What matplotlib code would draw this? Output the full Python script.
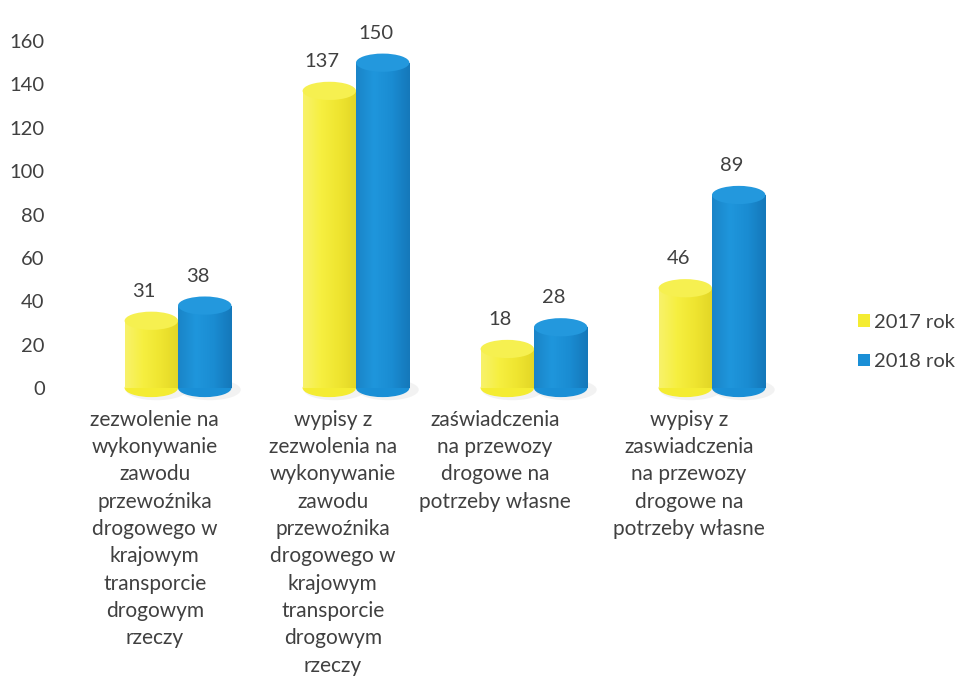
import numpy as np
import matplotlib
matplotlib.use("Agg")
import matplotlib.pyplot as plt
from matplotlib.patches import Rectangle, Ellipse, Patch
from matplotlib.colors import LinearSegmentedColormap

categories = [
    "zezwolenie na\nwykonywanie\nzawodu\nprzewoźnika\ndrogowego w\nkrajowym\ntransporcie\ndrogowym\nrzeczy",
    "wypisy z\nzezwolenia na\nwykonywanie\nzawodu\nprzewoźnika\ndrogowego w\nkrajowym\ntransporcie\ndrogowym\nrzeczy",
    "zaświadczenia\nna przewozy\ndrogowe na\npotrzeby własne",
    "wypisy z\nzaswiadczenia\nna przewozy\ndrogowe na\npotrzeby własne",
]
series_names = ["2017 rok", "2018 rok"]
values_2017 = [31, 137, 18, 46]
values_2018 = [38, 150, 28, 89]
yticks = [0, 20, 40, 60, 80, 100, 120, 140, 160]

plt.rcParams['font.family'] = ['Lato', 'DejaVu Sans']
text_color = '#404040'
fs = 14.5

fig = plt.figure(figsize=(9.64, 6.81), dpi=100)
ax = fig.add_axes([60/964, 1-388/681, (830-60)/964, (388-41)/681])

colors = {
    "2017 rok": ('#f4ec32', ['#f8f26a', '#f6ef40', '#efe530', '#e2d626'], '#f6f050'),
    "2018 rok": ('#1a8fd6', ['#1a84c8', '#1f96dc', '#1a8cd2', '#1578ba'], '#2398dd'),
}

bw = 0.30
ey = 4.2
x = np.arange(len(categories))
offsets = [-bw/2, bw/2]

for si, (name, vals) in enumerate(zip(series_names, [values_2017, values_2018])):
    base, grad, topc = colors[name]
    cmap = LinearSegmentedColormap.from_list(name, grad)
    gimg = np.linspace(0, 1, 64).reshape(1, -1)
    for i, v in enumerate(vals):
        cx = x[i] + offsets[si]
        sh = Ellipse((cx + 0.03, -0.8), bw * 1.15, ey * 2.3, facecolor='#dcdcdc',
                     edgecolor='none', alpha=0.35, zorder=1, clip_on=False)
        ax.add_patch(sh)
        body = Rectangle((cx - bw/2, 0), bw, v, facecolor=base, edgecolor='none',
                         zorder=2 + si, clip_on=False)
        ax.add_patch(body)
        bot = Ellipse((cx, 0), bw, 2*ey, facecolor=base, edgecolor='none',
                      zorder=2 + si, clip_on=False)
        ax.add_patch(bot)
        for p in (body, bot):
            im = ax.imshow(gimg, cmap=cmap, aspect='auto',
                           extent=[cx - bw/2, cx + bw/2, -ey, v], zorder=2 + si,
                           interpolation='bilinear')
            im.set_clip_path(p)
        top = Ellipse((cx, v), bw, 2*ey, facecolor=topc, edgecolor='none',
                      zorder=2.5 + si, clip_on=False)
        ax.add_patch(top)
        ax.text(cx - 0.04, v + ey + 5.5, str(v), ha='center', va='bottom',
                fontsize=fs, color=text_color, zorder=5)

ax.set_xlim(-0.663, 3.663)
ax.set_ylim(0, 160)
ax.set_yticks(yticks)
ax.set_yticklabels([str(t) for t in yticks], fontsize=fs, color=text_color)
label_shift = [-0.13, -0.13, -0.22, -0.13]
ax.set_xticks(x + np.array(label_shift))
ax.set_xticklabels(categories, fontsize=15, color=text_color, linespacing=1.46,
                   va='top')
ax.tick_params(axis='both', length=0)
ax.tick_params(axis='x', pad=15.5)
ax.tick_params(axis='y', pad=11)
for s in ax.spines.values():
    s.set_visible(False)

handles = [Patch(facecolor=colors[n][0], edgecolor='none') for n in series_names]
fig.legend(handles, series_names, loc='center left', bbox_to_anchor=(840/964, 1-342/681),
           frameon=False, fontsize=fs, handlelength=0.6, handleheight=0.6,
           handletextpad=0.2, labelspacing=1.1, labelcolor=text_color)

fig.savefig('out.png', dpi=100)
